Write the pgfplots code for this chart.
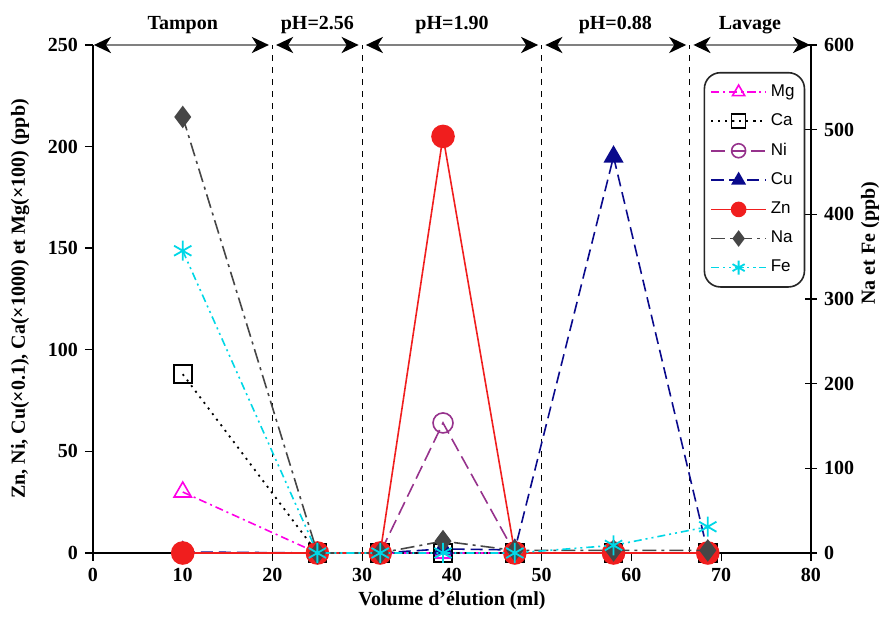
\documentclass[border=0pt]{standalone}
\usepackage{pgfplots}
\pgfplotsset{compat=1.18}
\usepackage{fontspec}
\setmainfont{Liberation Serif}
\newfontfamily\legfont{Liberation Sans}
\usetikzlibrary{arrows.meta}
\definecolor{mgcol}{RGB}{255,0,230}
\definecolor{nicol}{RGB}{150,50,140}
\definecolor{cucol}{RGB}{10,10,140}
\definecolor{nacol}{RGB}{70,70,70}
\definecolor{fecol}{RGB}{0,215,230}
\definecolor{zncol}{RGB}{240,30,30}
\tikzset{phar/.style={draw=gray, line width=1.4pt, {Stealth[color=black,length=8.5pt,width=8pt,inset=2.5pt]}-{Stealth[color=black,length=8.5pt,width=8pt,inset=2.5pt]}}}
\begin{document}
\begin{tikzpicture}
\useasboundingbox (-46.5pt,-33pt) rectangle (398.5pt,276.5pt);
\begin{axis}[
 at={(0,0)}, anchor=south west,
 scale only axis, width=359pt, height=254pt,
 xmin=0, xmax=80, ymin=0, ymax=250,
 axis y line*=left, axis x line*=bottom,
 x axis line style={-}, y axis line style={-},
 axis line style={line width=0.8pt},
 xtick={0,10,...,80}, ytick={0,50,...,250},
 tick align=outside, major tick length=4pt,
 tick style={line width=0.7pt, black},
 font=\fontsize{10}{12}\selectfont\bfseries,
 /pgf/number format/assume math mode=true,
 xlabel={Volume d’élution (ml)},
 ylabel={Zn, Ni, Cu(×0.1), Ca(×1000) et Mg(×100) (ppb)},
 xlabel style={yshift=2pt},
 ylabel shift=2.5pt,
 clip=false,
 mark size=5pt,
]
\draw[line width=0.6pt, dash pattern=on 3pt off 3pt] (axis cs:20,0) -- (axis cs:20,250);
\draw[line width=0.6pt, dash pattern=on 3pt off 3pt] (axis cs:30,0) -- (axis cs:30,250);
\draw[line width=0.6pt, dash pattern=on 3pt off 3pt] (axis cs:50,0) -- (axis cs:50,250);
\draw[line width=0.6pt, dash pattern=on 3pt off 3pt] (axis cs:66.5,0) -- (axis cs:66.5,250);
% Mg
\addplot[color=mgcol, line width=0.8pt, dash pattern=on 4pt off 2pt on 1pt off 2pt, mark=triangle, mark options={solid, line width=0.8pt}]
 coordinates {(10,30) (25,0) (32,0) (39,0) (47,0) (58,0) (68.5,0)};
% Ca
\addplot[color=black, line width=0.9pt, dash pattern=on 1pt off 2.5pt, mark=square, mark size=4.5pt, mark options={solid, line width=0.8pt}]
 coordinates {(10,88) (25,0) (32,0) (39,0) (47,0) (58,0) (68.5,0)};
% Ni
\addplot[color=nicol, line width=0.8pt, dash pattern=on 7pt off 3pt, mark=o, mark options={solid, line width=0.8pt}]
 coordinates {(10,0) (25,0) (32,0) (39,64) (47,0) (58,0) (68.5,0)};
% Cu
\addplot[color=cucol, line width=0.8pt, dash pattern=on 6pt off 3pt, mark=triangle*, mark options={solid}]
 coordinates {(10,0.5) (25,0) (32,0) (39,2) (47,1.5) (58,195) (68.5,0.5)};
% Zn
\addplot[color=zncol, line width=0.8pt, mark=*, mark size=5.5pt, mark options={solid}]
 coordinates {(10,0) (25,0) (32,0) (39,205) (47,0) (58,0) (68.5,0)};
% phase arrows
\draw[phar] (axis cs:0.1,250) -- (axis cs:19.6,250);
\draw[phar] (axis cs:20.4,250) -- (axis cs:29.6,250);
\draw[phar] (axis cs:30.4,250) -- (axis cs:49.6,250);
\draw[phar] (axis cs:50.4,250) -- (axis cs:66.1,250);
\draw[phar] (axis cs:66.9,250) -- (axis cs:79.9,250);
\node[yshift=10pt] at (axis cs:10,250) {Tampon};
\node[yshift=10pt] at (axis cs:25,250) {pH=2.56};
\node[yshift=10pt] at (axis cs:40,250) {pH=1.90};
\node[yshift=10pt] at (axis cs:58.2,250) {pH=0.88};
\node[yshift=10pt] at (axis cs:73.2,250) {Lavage};
\end{axis}
\begin{axis}[
 at={(0,0)}, anchor=south west,
 scale only axis, width=359pt, height=254pt,
 xmin=0, xmax=80, ymin=0, ymax=600,
 axis x line=none, axis y line*=right,
 y axis line style={-},
 axis line style={line width=0.8pt},
 ytick={0,100,...,600},
 tick align=center, major tick length=6pt,
 tick style={line width=0.7pt, black},
 font=\fontsize{10}{12}\selectfont\bfseries,
 /pgf/number format/assume math mode=true,
 clip=false,
 mark size=5pt,
 legend style={at={(0.992,0.947)}, anchor=north east, draw=black!85, line width=0.8pt, rounded corners=8pt,
   font=\legfont\fontsize{8.5}{10}\selectfont, row sep=3.2pt, inner xsep=3pt, inner ysep=4pt},
 legend cell align=left,
 legend image code/.code={\draw[mark repeat=2, mark phase=2, mark size=3.5pt] plot coordinates {(0cm,0cm) (0.48cm,0cm) (0.96cm,0cm)};},
]
\addlegendimage{color=mgcol, line width=0.8pt, dash pattern=on 4pt off 2pt on 1pt off 2pt, mark=triangle, mark options={solid, line width=0.8pt}}
\addlegendentry{Mg}
\addlegendimage{color=black, line width=0.9pt, dash pattern=on 1pt off 2.5pt, mark=square, mark options={solid, line width=0.8pt}}
\addlegendentry{Ca}
\addlegendimage{color=nicol, line width=0.8pt, dash pattern=on 7pt off 3pt, mark=o, mark options={solid, line width=0.8pt}}
\addlegendentry{Ni}
\addlegendimage{color=cucol, line width=0.8pt, dash pattern=on 6pt off 3pt, mark=triangle*, mark options={solid}}
\addlegendentry{Cu}
\addlegendimage{color=zncol, line width=0.8pt, mark=*, mark options={solid}}
\addlegendentry{Zn}
% Na
\addplot[color=nacol, line width=0.8pt, dash pattern=on 7pt off 2.5pt on 1.5pt off 2.5pt, mark=diamond*, mark options={solid}]
 coordinates {(10,515) (25,0) (32,0) (39,14) (47,3) (58,3) (68.5,3)};
\addlegendentry{Na}
% Fe
\addplot[color=fecol, line width=0.8pt, dash pattern=on 4pt off 2pt on 1pt off 2pt on 1pt off 2pt, mark=asterisk, mark options={solid, line width=0.9pt}]
 coordinates {(10,357) (25,0) (32,0) (39,0) (47,0) (58,9) (68.5,31)};
\addlegendentry{Fe}
\node[rotate=90, font=\fontsize{10}{12}\selectfont\bfseries] at ([xshift=29.5pt]rel axis cs:1,0.61) {Na et Fe (ppb)};
\end{axis}
\end{tikzpicture}
\end{document}
